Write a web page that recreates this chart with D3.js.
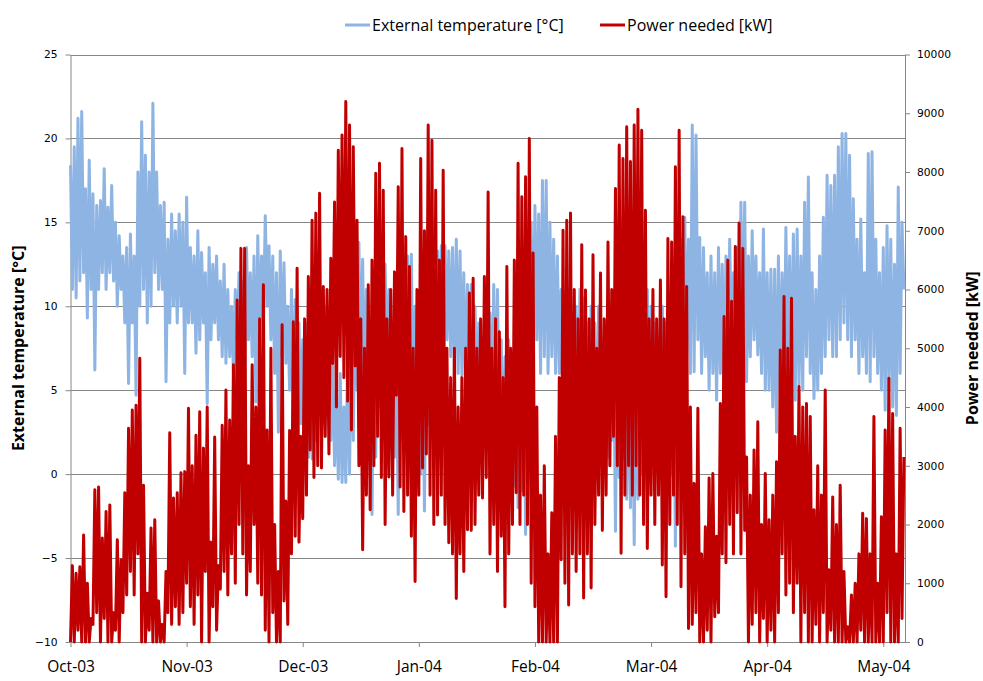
<!DOCTYPE html>
<html>
<head>
<meta charset="utf-8">
<script src="https://cdn.jsdelivr.net/npm/d3@7"></script>
<style>
  body { margin: 0; background: #fff; }
  .lbl { font-family: "Liberation Sans Narrow", "Open Sans", sans-serif; fill: #000; }
  .tick text { font-family: "DejaVu Sans", Verdana, sans-serif; font-size: 10.7px; fill: #000; }
</style>
</head>
<body>
<div id="chart"></div>
<script>
// month labels, one every 31 days of data
var monthLabels = ["Oct-03", "Nov-03", "Dec-03", "Jan-04", "Feb-04", "Mar-04", "Apr-04", "May-04"];
var monthStep = 31;          // days between labels
var sampleStep = 0.5;        // days between two readings
var totalDays = 222.8;

var tempTicks = [-10, -5, 0, 5, 10, 15, 20, 25];
var powerTicks = [0, 1000, 2000, 3000, 4000, 5000, 6000, 7000, 8000, 9000, 10000];

// external temperature [°C], two readings per day (day / night)
var temperature = [
  18.4,11, 19.5,10.5, 21.2,11.5, 21.6,12, 17,9.3, 18.7,11, 16.7,6.2, 16,11, 16.3,12, 18.2,11,
  15.9,12, 17.2,11.5, 15,10, 14.2,11, 13,9, 13.5,5.4, 14.3,9, 13,4.7, 18,10, 21,11,
  19,9, 18,10, 22.1,12, 18,11, 16,11, 16.2,5.5, 14,9, 15.5,10, 14.5,9, 15.5,10,
  15,6, 16.5,9, 13.5,9, 13,7.2, 14.5,8, 13.2,9, 12,4.2, 13.5,8, 12.5,9, 13,8,
  11.5,7, 12.5,6.6, 11,7, 10,6, 11,8, 12,7, 11.5,6, 13.5,8, 12,7, 13,4.3,
  14.2,8, 13,9, 15.4,10, 13.6,8, 13,6, 12,2.5, 13.3,7, 12.6,6.6, 10,5, 11,4,
  10.4,5, 9,3, 8,1.5, 9,1, 8.8,0.9, 10,2, 11,4, 9,3, 10,4.3, 8,2,
  6.5,0.5, 5,-0.3, 6,-0.5, 4,-0.5, 7.3,0, 9,2, 12,5, 13.8,6, 12.8,4, 11,3,
  8,-2.4, 9,1, 12,4, 10,3, 12.5,5, 11,3, 9,1, 7,-2.4, 10,2, 12,4,
  13,5, 13.1,3, 10,2, 9,0, 8,-2.2, 10.1,3, 12,5, 13.5,6, 13.3,7, 13.6,8,
  13.6,8, 13.3,7, 13.5,6, 14,6, 13.3,5.9, 12,5, 11.3,4, 11.3,6, 10,4, 9,3,
  8,2, 9.6,3, 9.6,2, 11.3,3, 11,2, 8,0, 7,-1, 8,0, 7,-0.7, 6,-2,
  8,-1, 7,-3.6, 11,3, 15,7, 16,8, 15.5,6, 17.5,7, 17.5,6, 15,7, 14,6,
  13,6, 11,4, 10,3, 11,2, 9.6,1, 10,2, 11,3, 10.5,2, 9,0, 10,2,
  9,1, 10,2, 8,0, 9,1, 10,2, 8,-3.4, 9,-0.2, 10,1, 8,-1.5, 7,-2,
  8,-4.2, 9,-1.5, 8,0, 9,1, 11,2, 10,3, 9,2, 8,1, 10,1, 9,2,
  9,0, 8,-4.3, 11,3, 14,5, 15.3,7, 14,6, 20.8,6.1, 20.2,8, 14.1,6, 13.5,7,
  12,5, 13,6, 12,4.4, 13.5,6, 12.5,5, 13,6, 14,7, 12,6, 13.5,7, 16.2,7,
  16.2,5.5, 13,7, 14.5,8, 13,7.1, 12,6, 14.6,5, 12,5, 12.2,4, 12.2,2.5, 13,5,
  12,5, 14.7,6, 13,5, 14.3,4.4, 14.6,5.3, 13,5, 16.2,7, 17.7,6, 12,4.5, 11,5,
  13,6, 15.3,7, 17.8,8, 17.2,7, 17.8,7, 19.5,8, 20.3,9, 20.3,8, 19,7, 16.4,8,
  14,6, 15.2,7, 12,6, 19.1,5.5, 19.2,7, 14,6, 12,5, 13.5,3.8, 14.8,5, 14,4,
  12.5,3.5, 17.1,6, 15,11
];

// power needed [kW], two readings per day (day / night)
var power = [
  0,1300, 0,1170, 200,1280, 0,1820, 0,1000, 0,400, 300,2590, 500,2640, 0,1770, 400,2220,
  0,2330, 0,500, 200,1740, 0,1400, 500,2540, 800,3640, 1200,3950, 800,4030, 1500,4830, 0,2670,
  0,830, 200,1940, 0,2080, 0,700, 0,300, 0,1200, 500,3560, 300,2450, 600,2540, 300,2880,
  500,2900, 1000,3980, 600,3000, 300,3520, 800,3920, 0,3300, 1200,4000, 0,1700, 600,3490, 200,1300,
  900,3690, 1200,4290, 800,3780, 1500,4720, 1000,5820, 2000,6700, 1500,6700, 800,3000, 1200,4720, 2000,4000,
  1000,5500, 800,6080, 200,3610, 0,5000, 500,2000, 0,1200, 0,5400, 700,2400, 300,3600, 1500,5450,
  1800,6360, 1700,3500, 2100,5500, 2500,6220, 3270,7180, 2800,7300, 3000,7640, 2960,6050, 3500,6000, 3200,6530,
  4740,7490, 4000,8370, 4860,8630, 4500,9200, 4100,8800, 3610,8430, 4700,7180, 3000,5500, 1570,5000, 2500,6080,
  2250,6500, 3000,7980, 3500,8150, 2800,7690, 2000,5500, 2810,6000, 2500,6300, 4200,7750, 2640,8400, 2220,6900,
  2500,6390, 1800,5000, 1030,6000, 2500,8230, 2960,7000, 3200,8800, 2500,8540, 2000,7690, 2160,6500, 2500,8030,
  2000,5000, 1690,4500, 1500,5000, 740,4000, 1500,4500, 1200,5000, 1910,5940, 1900,6190, 2000,5000, 2500,5500,
  2450,6220, 2800,7660, 1500,5000, 2000,5500, 1200,5280, 1800,4500, 600,6390, 1500,5000, 2000,6500, 2540,8150,
  2000,7580, 2500,7920, 2000,8570, 1000,6620, 600,4000, 0,2500, 0,3000, 0,1500, 0,2200, 0,3500,
  0,4500, 1400,7010, 1000,7180, 630,7300, 1500,6000, 1200,5500, 1500,6760, 750,5990, 1500,5500, 920,6590,
  2000,5000, 2500,6280, 1900,5500, 2500,6810, 3000,6000, 3500,7720, 3000,8460, 1510,8230, 2500,8770, 3000,8180,
  2500,8800, 3000,9070, 2500,8710, 2000,7350, 1590,5500, 2500,6000, 2000,5500, 2500,6160, 1310,5500, 770,6870,
  2000,6810, 2500,8090, 2000,8710, 940,7240, 1500,6050, 230,4000, 300,2700, 500,3980, 0,1500, 0,1960,
  200,2790, 0,2870, 430,1800, 500,4060, 1500,5540, 1350,6500, 2000,5800, 1500,6730, 2200,7130, 1500,6700,
  1900,3150, 0,2500, 300,3270, 500,3750, 0,2000, 400,2870, 0,2080, 200,2500, 0,3070, 500,4970,
  1500,5880, 800,5000, 1000,5850, 500,3500, 1000,4350, 0,4000, 500,4060, 0,3840, 0,2250, 300,3000,
  0,2500, 500,4290, 0,1230, 200,2470, 0,2000, 0,2670, 0,1200, 0,260, 0,800, 0,1000,
  0,1500, 200,2190, 0,2100, 0,1500, 0,3840, 0,1000, 0,2130, 0,3610, 500,4490, 0,3890,
  0,1500, 0,3640, 400,3150
];

var W = 983, H = 681;
var plot = {left: 70.5, right: 905, top: 54.5, bottom: 642};
var gridColor = "#868686";
var tempColor = "#8EB4E3", powerColor = "#C00000";

var svg = d3.select("#chart").append("svg")
  .attr("width", W)
  .attr("height", H);

var x = d3.scaleLinear().domain([0, totalDays]).range([plot.left, plot.right]);
var yT = d3.scaleLinear().domain([-10, 25]).range([plot.bottom, plot.top]);
var yP = d3.scaleLinear().domain([0, 10000]).range([plot.bottom, plot.top]);

// horizontal gridlines on the temperature ticks
svg.append("g")
  .selectAll("line")
  .data(tempTicks)
  .join("line")
  .attr("x1", plot.left).attr("x2", plot.right)
  .attr("y1", d => Math.round(yT(d)) + 0.5).attr("y2", d => Math.round(yT(d)) + 0.5)
  .attr("stroke", gridColor)
  .attr("stroke-width", 1);

function styleAxis(g) {
  g.selectAll(".domain").attr("stroke", gridColor);
  g.selectAll(".tick line").attr("stroke", gridColor);
}

// left axis
svg.append("g")
  .attr("transform", "translate(" + plot.left + ",0)")
  .call(d3.axisLeft(yT).tickValues(tempTicks).tickSize(5).tickSizeOuter(0).tickPadding(8))
  .call(styleAxis);

// right axis
svg.append("g")
  .attr("transform", "translate(" + plot.right + ",0)")
  .call(d3.axisRight(yP).tickValues(powerTicks).tickFormat(d3.format("d"))
    .tickSize(5).tickSizeOuter(0).tickPadding(7))
  .call(styleAxis);

// bottom axis, a label every 31 days
var monthTicks = monthLabels.map((m, i) => i * monthStep);
var xAxis = svg.append("g")
  .attr("transform", "translate(0," + plot.bottom + ")")
  .call(d3.axisBottom(x).tickValues(monthTicks)
    .tickFormat((d, i) => monthLabels[i]).tickSize(5).tickSizeOuter(0).tickPadding(14))
  .call(styleAxis);
xAxis.selectAll(".tick text")
  .attr("class", "lbl")
  .style("font-family", "'Liberation Sans Narrow', 'Open Sans', sans-serif")
  .style("font-size", "15.5px");

// series
var lineT = d3.line().x((d, i) => x(i * sampleStep)).y(d => yT(d));
var lineP = d3.line().x((d, i) => x(i * sampleStep)).y(d => yP(d));

svg.append("path")
  .datum(temperature)
  .attr("d", lineT)
  .attr("fill", "none")
  .attr("stroke", tempColor)
  .attr("stroke-width", 3)
  .attr("stroke-linejoin", "round");

svg.append("path")
  .datum(power)
  .attr("d", lineP)
  .attr("fill", "none")
  .attr("stroke", powerColor)
  .attr("stroke-width", 3)
  .attr("stroke-linejoin", "round");

// axis titles
svg.append("text")
  .attr("class", "lbl")
  .attr("transform", "translate(24," + (plot.top + plot.bottom) / 2 + ") rotate(-90)")
  .attr("text-anchor", "middle")
  .style("font-size", "16px")
  .style("font-weight", "bold")
  .text("External temperature [°C]");

svg.append("text")
  .attr("class", "lbl")
  .attr("transform", "translate(978," + (plot.top + plot.bottom) / 2 + ") rotate(-90)")
  .attr("text-anchor", "middle")
  .style("font-size", "16px")
  .style("font-weight", "bold")
  .text("Power needed [kW]");

// legend
var legend = [
  {name: "External temperature [°C]", color: tempColor, x: 345},
  {name: "Power needed [kW]", color: powerColor, x: 600}
];
var lg = svg.append("g").selectAll("g").data(legend).join("g")
  .attr("transform", d => "translate(" + d.x + ",25)");
lg.append("line")
  .attr("x1", 0).attr("x2", 25)
  .attr("stroke", d => d.color)
  .attr("stroke-width", 3);
lg.append("text")
  .attr("class", "lbl")
  .attr("x", 27)
  .attr("dy", "0.35em")
  .style("font-size", "16px")
  .text(d => d.name);
</script>
</body>
</html>
